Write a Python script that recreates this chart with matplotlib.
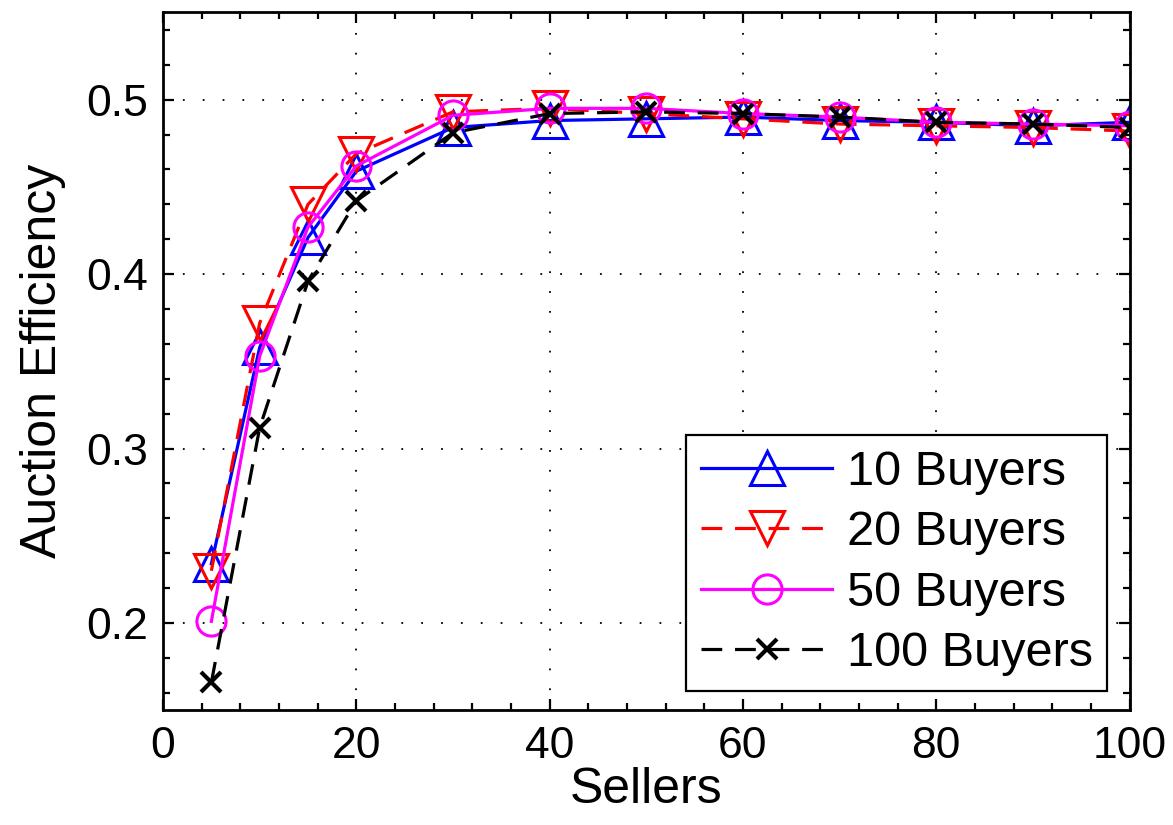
import matplotlib
matplotlib.use("Agg")
import matplotlib.pyplot as plt
from matplotlib.ticker import MultipleLocator

plt.rcParams['font.family'] = ['Liberation Sans', 'DejaVu Sans']

sellers = [5, 10, 15, 20, 30, 40, 50, 60, 70, 80, 90, 100]
buyers10 = [0.234, 0.358, 0.421, 0.459, 0.484, 0.488, 0.489, 0.490, 0.488, 0.487, 0.485, 0.487]
buyers20 = [0.230, 0.372, 0.440, 0.469, 0.493, 0.495, 0.492, 0.489, 0.486, 0.485, 0.484, 0.482]
buyers50 = [0.201, 0.353, 0.427, 0.462, 0.491, 0.495, 0.495, 0.492, 0.490, 0.487, 0.486, 0.485]
buyers100 = [0.166, 0.312, 0.396, 0.442, 0.481, 0.492, 0.493, 0.492, 0.490, 0.487, 0.486, 0.484]
labels = ['10 Buyers', '20 Buyers', '50 Buyers', '100 Buyers']

fig = plt.figure(figsize=(11.73, 8.25), dpi=100)
ax = fig.add_axes([0.139, 0.139, 0.824, 0.846])

lw = 2.3
mew = 2.2
dash = (6.5, 4)
ax.plot(sellers, buyers10, '-', color='#0000ff', lw=lw, marker='^', ms=24,
        mfc='none', mew=mew, label=labels[0])
ax.plot(sellers, buyers20, '--', color='#ff0000', lw=lw, marker='v', ms=24,
        mfc='none', mew=mew, dashes=dash, label=labels[1])
ax.plot(sellers, buyers50, '-', color='#ff00ff', lw=lw, marker='o', ms=21,
        mfc='none', mew=mew, label=labels[2])
ax.plot(sellers, buyers100, '--', color='black', lw=lw, marker='x', ms=15,
        mew=3, dashes=dash, label=labels[3])

ax.set_xlim(0, 100)
ax.set_ylim(0.15, 0.55)
ax.xaxis.set_major_locator(MultipleLocator(20))
ax.xaxis.set_minor_locator(MultipleLocator(4))
ax.yaxis.set_minor_locator(MultipleLocator(0.02))
ax.set_yticks([0.2, 0.3, 0.4, 0.5])
ax.tick_params(which='both', direction='in', top=True, right=True, width=1.6)
ax.tick_params(which='major', length=8, labelsize=32, pad=11)
ax.tick_params(which='minor', length=5)
for s in ax.spines.values():
    s.set_linewidth(2)

ax.grid(True, which='major', linestyle=(0, (1, 10)), color='black', linewidth=1.3)

ax.set_xlabel('Sellers', fontsize=36, labelpad=0)
ax.set_ylabel('Auction Efficiency', fontsize=36, labelpad=14)

leg = ax.legend(loc='lower right', bbox_to_anchor=(0.977, 0.028), borderaxespad=0,
                fontsize=35, fancybox=False, framealpha=1, edgecolor='black',
                handlelength=2.7, labelspacing=0.32, borderpad=0.3, handletextpad=0.3)
leg.get_frame().set_linewidth(1.6)

fig.savefig('out.png', dpi=100)
